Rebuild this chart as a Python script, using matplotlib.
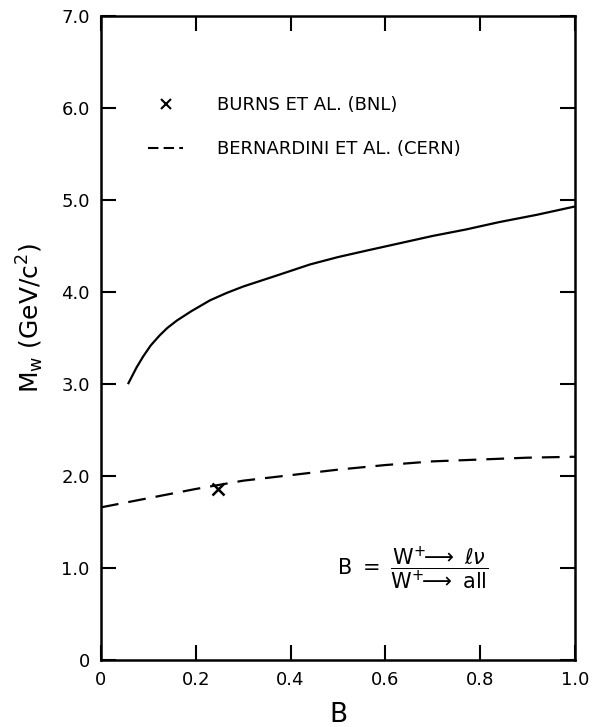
import matplotlib
matplotlib.use("Agg")
import matplotlib.pyplot as plt
from matplotlib.lines import Line2D

plt.rcParams['font.family'] = ['DejaVu Sans']
plt.rcParams['mathtext.fontset'] = 'dejavusans'

# solid curve
b_solid = [0.058, 0.065, 0.075, 0.089, 0.105, 0.124, 0.14, 0.160, 0.19, 0.230, 0.265, 0.300, 0.371, 0.441, 0.50, 0.56, 0.63, 0.70, 0.77, 0.84, 0.92, 1.0]
m_solid = [3.01, 3.08, 3.18, 3.30, 3.42, 3.53, 3.61, 3.69, 3.79, 3.91, 3.99, 4.06, 4.18, 4.30, 4.38, 4.45, 4.53, 4.61, 4.68, 4.76, 4.84, 4.93]

# Bernardini et al. (CERN), dashed
b_dash = [0.0, 0.1, 0.2, 0.3, 0.4, 0.5, 0.6, 0.7, 0.8, 0.9, 1.0]
m_dash = [1.66, 1.76, 1.86, 1.95, 2.01, 2.07, 2.12, 2.16, 2.18, 2.20, 2.21]

# Burns et al. (BNL) point
b_burns = [0.247]
m_burns = [1.86]

x_ticks = [0, 0.2, 0.4, 0.6, 0.8, 1.0]
x_labels = ['0', '0.2', '0.4', '0.6', '0.8', '1.0']
y_ticks = [0, 1, 2, 3, 4, 5, 6, 7]
y_labels = ['0', '1.0', '2.0', '3.0', '4.0', '5.0', '6.0', '7.0']

fig = plt.figure(figsize=(5.94, 7.27), dpi=100)
ax = fig.add_axes([0.170, 0.092, 0.798, 0.886])

ax.plot(b_solid, m_solid, color='black', lw=1.6)
ax.plot(b_dash, m_dash, color='black', lw=1.6, linestyle=(0, (8, 4.5)))
ax.plot(b_burns, m_burns, marker='x', color='black', markersize=8, mew=1.8, linestyle='none')

ax.set_xlim(0, 1.0)
ax.set_ylim(0, 7.0)
ax.set_xticks(x_ticks)
ax.set_xticklabels(x_labels)
ax.set_yticks(y_ticks)
ax.set_yticklabels(y_labels)
ax.tick_params(direction='in', top=True, right=True, length=11, width=1.5, labelsize=13, pad=8)
for s in ax.spines.values():
    s.set_linewidth(1.8)

ax.set_xlabel('B', fontsize=19)
ax.xaxis.set_label_coords(0.5, -0.085)
ax.xaxis.label.set_va('center')
ax.set_ylabel(r'M$_\mathrm{w}$ (GeV/c$^2$)', fontsize=18)
ax.yaxis.set_label_coords(-0.15, 0.531)
ax.yaxis.label.set(va='center', ha='center', rotation_mode='default')

handles = [Line2D([], [], marker='x', color='black', markersize=7, mew=1.5, linestyle='none'),
           Line2D([], [], color='black', lw=1.5, linestyle=(0, (5, 2.5)))]
ax.legend(handles, ['BURNS ET AL. (BNL)', 'BERNARDINI ET AL. (CERN)'],
          loc='upper left', bbox_to_anchor=(0.099, 0.876), frameon=False,
          borderpad=0, borderaxespad=0,
          fontsize=13, handlelength=1.95, handletextpad=1.9, labelspacing=1.45)

ax.text(0.497, 1.0, r'$\mathrm{B}\ =\ \dfrac{\mathrm{W}^{+}\!\!\longrightarrow\ \ell\nu}{\mathrm{W}^{+}\!\!\longrightarrow\ \mathrm{all}}$',
        fontsize=15, ha='left', va='center')

fig.savefig('out.png', dpi=100)
